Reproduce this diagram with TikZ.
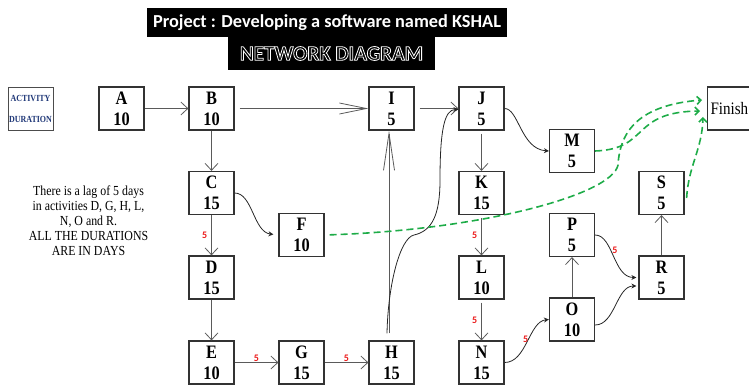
\documentclass[tikz,border=0pt]{standalone}
\usepackage{fontspec}
\setmainfont{Liberation Serif}
\newfontfamily\boxfont[FakeStretch=0.86]{Liberation Serif}
\newfontfamily\titlefont{Carlito}
\usetikzlibrary{arrows.meta, positioning}
\definecolor{lagred}{RGB}{235,25,25}
\definecolor{dashgreen}{RGB}{30,172,72}
\definecolor{navy}{RGB}{32,56,120}
\definecolor{linegray}{RGB}{90,90,90}
% hollow letters: stroke only, white outline
\newcommand{\hollowtext}[1]{\special{pdf:literal direct q 1 Tr 0.8 w 1 1 1 RG}#1\special{pdf:literal direct Q}}

\begin{document}
\begin{tikzpicture}[x=1pt, y=-1pt,
	actbox/.style={draw=black!80, line width=1.2pt, minimum width=45pt, minimum height=43pt, inner sep=0pt, align=center, font=\boxfont\bfseries\fontsize{19}{21}\selectfont},
	conn/.style={draw=linegray, line width=0.8pt, -{Straight Barb[length=7pt,width=13pt]}},
	longtip/.style={-{Straight Barb[length=27pt,width=11pt]}},
	talltip/.style={-{Straight Barb[length=37pt,width=11pt]}},
	curve/.style={draw=black!85, line width=0.8pt, -{Stealth[length=5pt,width=5pt]}},
	gdash/.style={draw=dashgreen, line width=1.6pt, dash pattern=on 7pt off 4pt, -{Straight Barb[length=4pt,width=8pt]}},
	lag/.style={text=lagred, inner sep=1pt, font=\titlefont\bfseries\fontsize{10}{11}\selectfont}]
	\useasboundingbox (0,0) rectangle (749,385);

	% title
	\node[fill=black, text=white, minimum width=360pt, minimum height=29pt, inner sep=0pt, font=\titlefont\bfseries\fontsize{18.3}{20}\selectfont] (title) at (327,22.5) {Project : Developing a software named KSHAL};
	\node[fill=black, text=black, minimum width=207pt, minimum height=33pt, inner sep=0pt, font=\titlefont\bfseries\fontsize{21}{24}\selectfont] (subtitle) at (331.5,53.5) {\hollowtext{NETWORK DIAGRAM}};

	% legend and note
	\node[draw=black!70, line width=0.8pt, minimum width=45pt, minimum height=43pt, inner sep=0pt, align=center, text=navy, font=\boxfont\bfseries\fontsize{9.3}{21}\selectfont] (legend) at (30.5,108.5) {ACTIVITY\\DURATION};
	\node[align=center, font=\boxfont\fontsize{13.8}{15}\selectfont] (note) at (88.5,221) {There is a lag of 5 days\\in activities D, G, H, L,\\N, O and R.\\ALL THE DURATIONS\\ARE IN DAYS};

	% activities
	\node[actbox] (A) at (121.5,108.5) {A\\10};
	\node[actbox] (B) at (211.5,108.5) {B\\10};
	\node[actbox] (C) at (211.5,193) {C\\15};
	\node[actbox] (D) at (211.5,277.5) {D\\15};
	\node[actbox] (E) at (211.5,362.5) {E\\10};
	\node[actbox] (F) at (301.5,235) {F\\10};
	\node[actbox] (G) at (301.5,362.5) {G\\15};
	\node[actbox] (H) at (391.5,362.5) {H\\15};
	\node[actbox] (I) at (391.5,108.5) {I\\5};
	\node[actbox] (J) at (481.5,108.5) {J\\5};
	\node[actbox] (K) at (481.5,193) {K\\15};
	\node[actbox] (L) at (481.5,277.5) {L\\10};
	\node[actbox] (N) at (481.5,362.5) {N\\15};
	\node[actbox] (M) at (572,151) {M\\5};
	\node[actbox] (P) at (572,235) {P\\5};
	\node[actbox] (O) at (572,319.5) {O\\10};
	\node[actbox] (S) at (661.5,193) {S\\5};
	\node[actbox] (R) at (661.5,277.5) {R\\5};
	\node[draw=black!80, line width=1.2pt, anchor=west, minimum height=43pt, text width=64pt, inner sep=3pt, align=left, font=\boxfont\fontsize{17.5}{20}\selectfont] (fin) at (707,108.5) {Finish};

	% straight links
	\draw[conn] (A) -- (B);
	\draw[conn] (B) -- (C);
	\draw[conn] (C) -- node[lag, left=3pt] {5} (D);
	\draw[conn] (D) -- (E);
	\draw[conn] (E) -- node[lag, above=0pt] {5} (G);
	\draw[conn] (G) -- node[lag, above=0pt] {5} (H);
	\draw[conn, longtip, shorten <=5pt] (B) -- (I);
	\draw[conn, shorten <=5pt] (I) -- (J);
	\draw[conn, talltip] ([xshift=-2.5pt,yshift=7pt]H.north) -- ([xshift=-2.5pt]I.south);
	\draw[conn, shorten <=3pt] (J) -- (K);
	\draw[conn, shorten <=3pt] (K) -- node[lag, left=3pt] {5} (L);
	\draw[conn, shorten <=3pt] (L) -- node[lag, left=3pt] {5} (N);
	\draw[conn] (O) -- (P);
	\draw[conn] (R) -- (S);

	% curved links
	\coordinate (hk) at (414,235);
	\coordinate (hl) at (440,180);
	\draw[curve] ([xshift=-4.5pt,yshift=7pt]H.north) .. controls +(1,-49) and +(-14,3) .. (hk) .. controls +(18,-4) and +(0,35) .. (hl) .. controls +(0,-50) and +(-14,0) .. ([yshift=-1pt]J.west);
	\draw[curve, shorten >=5pt] (C.east) .. controls +(18,0) and +(-25,-3) .. (F.west);
	\draw[curve] (J.east) .. controls +(14,0) and +(-28,-2) .. (M.west);
	\draw[curve] (N.east) .. controls +(22,0) and +(-20,2) .. (O.west) node[lag, pos=0.5, above left=-3pt] {5};
	\draw[curve, shorten >=2pt] (P.east) .. controls +(18,0) and +(-25,0) .. (R.west) node[lag, pos=0.4, right=0pt] {5};
	\draw[curve, shorten >=2pt] ([yshift=-5.5pt]O.east) .. controls +(20,0) and +(-22,0) .. ([yshift=-8.5pt]R.west);

	% links to finish
	\coordinate (g1) at (618,165);
	\draw[gdash, shorten <=5pt] (F.east) .. controls +(156,-5) and +(-6,30) .. (g1) .. controls +(2,-35) and +(-62,5) .. ([xshift=-5pt,yshift=8.5pt]fin.west);
	\draw[gdash] (M.east) .. controls +(55,-2) and +(-70,1) .. ([xshift=-7pt,yshift=-2.5pt]fin.west);
	\draw[gdash] ([xshift=2pt,yshift=-5pt]S.east) .. controls +(2,-33) and +(-1,33) .. ([xshift=-4pt,yshift=-8.5pt]fin.west);
\end{tikzpicture}
\end{document}
